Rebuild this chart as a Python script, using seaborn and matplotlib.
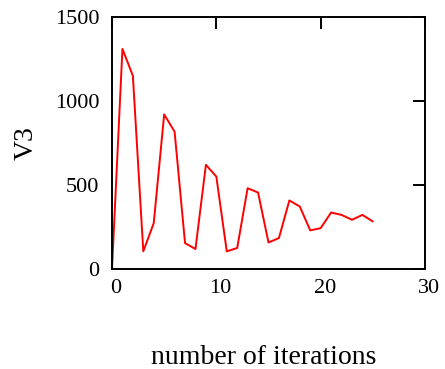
import matplotlib
matplotlib.use("Agg")
import matplotlib.pyplot as plt
import matplotlib.transforms as mtransforms
import seaborn as sns
import pandas as pd

iterations = list(range(26))
v3 = [0, 1310, 1150, 105, 273, 920, 817, 154, 119, 620, 550, 105, 125,
      481, 455, 158, 184, 408, 372, 230, 243, 336, 322, 293, 322, 283]
x_ticks = [0, 10, 20, 30]
y_ticks = [0, 500, 1000, 1500]

sns.set_style("white")
plt.rcParams['font.family'] = ['Liberation Serif', 'DejaVu Serif']
plt.rcParams['text.color'] = 'black'
plt.rcParams['axes.labelcolor'] = 'black'

df = pd.DataFrame({"iter": iterations, "V3": v3})

fig = plt.figure(figsize=(4.45, 3.69), dpi=100)
ax = fig.add_axes([0.2517, 0.271, 0.7033, 0.683])
sns.lineplot(data=df, x="iter", y="V3", ax=ax, color="#ff0000", linewidth=1.4)

ax.set_xlim(0, 30)
ax.set_ylim(0, 1500)
ax.set_xticks(x_ticks)
ax.set_yticks(y_ticks)
ax.set_xticklabels([str(t) for t in x_ticks], fontsize=16)
ax.set_yticklabels([str(t) for t in y_ticks], fontsize=16)

ax.tick_params(axis='both', direction='in', length=8.5, width=1.4,
               top=True, right=True, colors='black')
ax.tick_params(axis='x', pad=7)
ax.tick_params(axis='y', pad=9)

for sp in ax.spines.values():
    sp.set_visible(True)
    sp.set_color('black')
    sp.set_linewidth(1.4)

# shift x tick labels slightly right, like the reference
offset = mtransforms.ScaledTranslation(4/100, 0, fig.dpi_scale_trans)
for lbl in ax.get_xticklabels():
    lbl.set_transform(lbl.get_transform() + offset)

ax.set_xlabel("number of iterations", fontsize=20, color='black')
ax.set_ylabel("V3", fontsize=20, color='black')
ax.xaxis.label.set_va('baseline')
ax.xaxis.set_label_coords(0.486, -0.375)
ax.yaxis.set_label_coords(-0.235, 0.5)

fig.savefig("out.png", dpi=100)
